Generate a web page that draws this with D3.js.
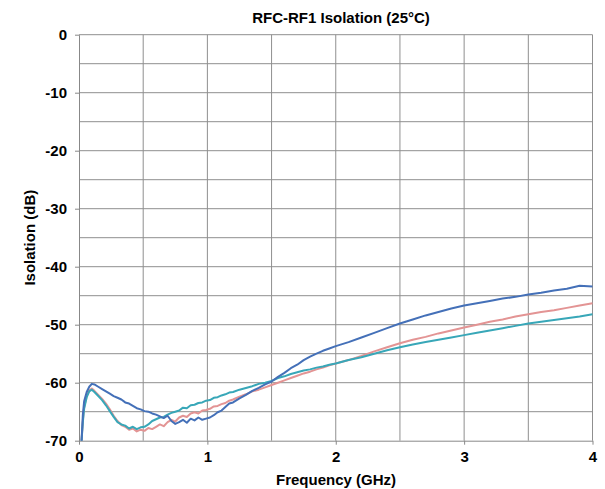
<!DOCTYPE html>
<html>
<head>
<meta charset="utf-8">
<script src="https://cdn.jsdelivr.net/npm/d3@7"></script>
<style>
  body { margin: 0; background: #fff; }
  text { font-family: "Liberation Sans", Arial, sans-serif; font-weight: bold; fill: #000; }
</style>
</head>
<body>
<div id="chart"></div>
<script>
const freq = [0.02,0.03,0.04,0.06,0.08,0.10,0.12,0.15,0.18,0.21,0.24,0.27,0.30,0.33,0.36,0.39,0.42,0.45,0.48,0.51,
  0.54,0.57,0.60,0.63,0.66,0.69,0.72,0.75,0.78,0.81,0.84,0.87,0.90,0.93,0.96,0.99,1.02,1.05,1.08,1.11,
  1.14,1.17,1.20,1.25,1.30,1.35,1.40,1.45,1.50,1.55,1.60,1.65,1.70,1.75,1.80,1.85,1.90,1.95,2.00,2.10,
  2.20,2.30,2.40,2.50,2.60,2.70,2.80,2.90,3.00,3.10,3.20,3.30,3.40,3.50,3.60,3.70,3.80,3.90,4.00];

const blueIso = [-70,-65.5,-63.2,-61.6,-60.7,-60.2,-60.3,-60.7,-61.1,-61.5,-61.9,-62.3,-62.6,-62.9,-63.4,-63.6,-64.0,-64.4,-64.6,-64.9,
  -65.0,-65.3,-65.5,-65.8,-66.1,-65.7,-66.6,-67.1,-66.8,-66.4,-66.9,-66.2,-66.5,-66.0,-66.4,-66.2,-66.0,-65.6,-65.1,-64.8,
  -64.2,-63.6,-63.4,-62.7,-62.1,-61.4,-60.9,-60.3,-59.8,-59.0,-58.3,-57.5,-56.9,-56.1,-55.5,-55.0,-54.5,-54.1,-53.7,-53.0,
  -52.2,-51.4,-50.6,-49.8,-49.1,-48.4,-47.8,-47.2,-46.7,-46.3,-45.9,-45.5,-45.2,-44.8,-44.5,-44.1,-43.8,-43.3,-43.4];

const pinkIso = [-70,-66.5,-64.2,-62.3,-61.3,-61.0,-61.4,-62.1,-62.8,-63.6,-64.6,-65.7,-66.6,-67.3,-67.6,-68.1,-67.9,-68.4,-68.1,-68.3,
  -67.8,-68.0,-67.6,-67.2,-67.5,-66.8,-66.4,-66.7,-66.0,-65.7,-65.9,-65.3,-65.1,-65.3,-64.8,-64.7,-64.5,-64.1,-64.0,-63.7,
  -63.5,-63.1,-62.9,-62.4,-62.0,-61.5,-61.2,-60.8,-60.4,-60.0,-59.6,-59.2,-58.8,-58.4,-58.1,-57.7,-57.4,-57.0,-56.7,-56.1,
  -55.4,-54.6,-53.9,-53.2,-52.6,-52.1,-51.5,-51.0,-50.5,-50.0,-49.5,-49.1,-48.6,-48.2,-47.8,-47.5,-47.1,-46.7,-46.3];

const tealIso = [-70,-66.8,-64.5,-62.5,-61.5,-61.2,-61.6,-62.3,-63.0,-63.9,-64.9,-65.9,-66.8,-67.2,-67.4,-67.9,-67.6,-68.0,-67.7,-67.6,
  -67.2,-66.6,-66.3,-66.0,-65.9,-65.5,-65.2,-65.0,-64.8,-64.3,-64.4,-63.9,-63.8,-63.5,-63.4,-63.1,-63.0,-62.6,-62.5,-62.2,
  -62.0,-61.7,-61.6,-61.2,-60.9,-60.6,-60.2,-60.0,-59.7,-59.2,-58.9,-58.5,-58.2,-57.9,-57.7,-57.4,-57.2,-56.9,-56.7,-56.1,
  -55.6,-55.0,-54.4,-53.9,-53.4,-53.0,-52.6,-52.2,-51.8,-51.4,-51.0,-50.6,-50.2,-49.8,-49.5,-49.2,-48.9,-48.6,-48.2];

const xTicks = [0, 1, 2, 3, 4];
const yTicks = [0, -10, -20, -30, -40, -50, -60, -70];
const xGrid = [0.5, 1, 1.5, 2, 2.5, 3, 3.5, 4];
const yGrid = [0, -5, -10, -15, -20, -25, -30, -35, -40, -45, -50, -55, -60, -65];

const series = [
  { name: 'pink', values: pinkIso, color: '#e39494' },
  { name: 'teal', values: tealIso, color: '#38a7b8' },
  { name: 'blue', values: blueIso, color: '#4470b8' }
];

const w = 605;
const h = 489;
const padL = 79, padR = 592.5, padT = 34.7, padB = 440.7;

const svg = d3.select('#chart')
  .append('svg')
  .attr('width', w)
  .attr('height', h);

svg.append('rect').attr('width', w).attr('height', h).attr('fill', '#fff');

const xScale = d3.scaleLinear()
  .domain([0, 4])
  .range([padL, padR]);

const yScale = d3.scaleLinear()
  .domain([-70, 0])
  .range([padB, padT]);

// grid
svg.append('g')
  .selectAll('line')
  .data(xGrid)
  .enter().append('line')
  .attr('x1', d => xScale(d)).attr('x2', d => xScale(d))
  .attr('y1', padT).attr('y2', padB)
  .attr('stroke', '#8f8f8f')
  .attr('stroke-width', 1);

svg.append('g')
  .selectAll('line')
  .data(yGrid)
  .enter().append('line')
  .attr('x1', padL).attr('x2', padR)
  .attr('y1', d => yScale(d)).attr('y2', d => yScale(d))
  .attr('stroke', '#8f8f8f')
  .attr('stroke-width', 1);

const xAxis = d3.axisBottom(xScale).tickValues(xTicks).tickFormat(d3.format('d')).tickSize(4).tickSizeOuter(0).tickPadding(7);
const yAxis = d3.axisLeft(yScale).tickValues(yTicks).tickFormat(d => d).tickSize(4).tickSizeOuter(0).tickPadding(8);

const gx = svg.append('g')
  .attr('transform', 'translate(0,' + padB + ')')
  .call(xAxis);
gx.select('.domain').attr('stroke', '#888');
gx.selectAll('.tick line').attr('stroke', '#888');
gx.selectAll('.tick text').style('font-size', '15px').attr('fill', '#000');

const gy = svg.append('g')
  .attr('transform', 'translate(' + padL + ',0)')
  .call(yAxis);
gy.select('.domain').attr('stroke', '#888');
gy.selectAll('.tick line').attr('stroke', '#888');
gy.selectAll('.tick text').style('font-size', '15px').attr('fill', '#000');

const line = d3.line()
  .x((d, i) => xScale(freq[i]))
  .y(d => yScale(d));

series.forEach(s => {
  svg.append('path')
    .datum(s.values)
    .attr('fill', 'none')
    .attr('stroke', s.color)
    .attr('stroke-width', 2)
    .attr('stroke-linejoin', 'round')
    .attr('d', line);
});

svg.append('text')
  .attr('x', 341)
  .attr('y', 23)
  .attr('text-anchor', 'middle')
  .style('font-size', '15px')
  .text('RFC-RF1 Isolation (25\u00B0C)');

svg.append('text')
  .attr('x', 336)
  .attr('y', 485)
  .attr('text-anchor', 'middle')
  .style('font-size', '15px')
  .text('Frequency (GHz)');

svg.append('text')
  .attr('transform', 'translate(35,' + ((padT + padB) / 2) + ') rotate(-90)')
  .attr('text-anchor', 'middle')
  .style('font-size', '15px')
  .text('Isolation (dB)');
</script>
</body>
</html>
